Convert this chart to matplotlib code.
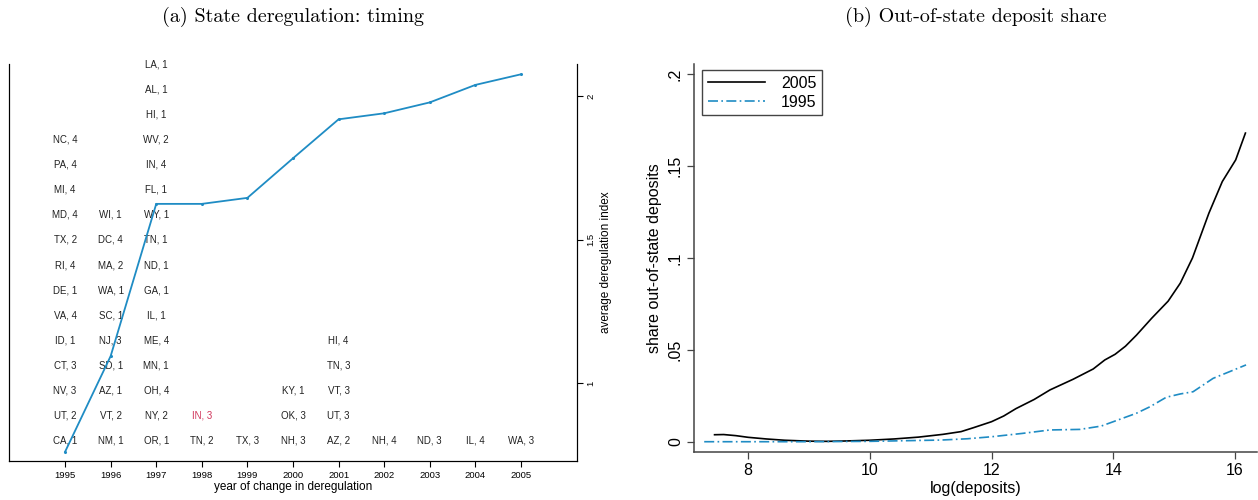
import numpy as np
import matplotlib
matplotlib.use("Agg")
import matplotlib.pyplot as plt

plt.rcParams['font.family'] = ['Liberation Sans', 'DejaVu Sans']

# panel (a): states deregulating in each year, with index value
years = [1995, 1996, 1997, 1998, 1999, 2000, 2001, 2002, 2003, 2004, 2005]
states = {
    1995: ["CA, 1", "UT, 2", "NV, 3", "CT, 3", "ID, 1", "VA, 4", "DE, 1", "RI, 4",
           "TX, 2", "MD, 4", "MI, 4", "PA, 4", "NC, 4"],
    1996: ["NM, 1", "VT, 2", "AZ, 1", "SD, 1", "NJ, 3", "SC, 1", "WA, 1", "MA, 2",
           "DC, 4", "WI, 1"],
    1997: ["OR, 1", "NY, 2", "OH, 4", "MN, 1", "ME, 4", "IL, 1", "GA, 1", "ND, 1",
           "TN, 1", "WY, 1", "FL, 1", "IN, 4", "WV, 2", "HI, 1", "AL, 1", "LA, 1"],
    1998: ["TN, 2", "IN, 3"],
    1999: ["TX, 3"],
    2000: ["NH, 3", "OK, 3", "KY, 1"],
    2001: ["AZ, 2", "UT, 3", "VT, 3", "TN, 3", "HI, 4"],
    2002: ["NH, 4"],
    2003: ["ND, 3"],
    2004: ["IL, 4"],
    2005: ["WA, 3"],
}
highlight = "IN, 3"
avg_index = [0.76, 1.094, 1.625, 1.625, 1.646, 1.784, 1.920, 1.941, 1.979, 2.040, 2.077]

# panel (b): out-of-state deposit share by log(deposits)
x05 = [7.45, 7.6, 7.8, 8.0, 8.3, 8.6, 9.0, 9.3, 9.6, 10.0, 10.4, 10.8, 11.2, 11.5,
       11.7, 12.0, 12.2, 12.4, 12.7, 12.96, 13.34, 13.67, 13.86, 14.03, 14.2, 14.38,
       14.63, 14.9, 15.1, 15.3, 15.57, 15.79, 16.01, 16.17]
y05 = [0.0038, 0.0039, 0.0033, 0.0024, 0.0015, 0.0008, 0.0003, 0.0002, 0.0004,
       0.0008, 0.0015, 0.0025, 0.0040, 0.0055, 0.0076, 0.0109, 0.014, 0.018, 0.023,
       0.0282, 0.034, 0.0396, 0.0445, 0.0476, 0.052, 0.058, 0.0672, 0.0765, 0.0863,
       0.1000, 0.1244, 0.1416, 0.1534, 0.168]
x95 = [7.28, 8.0, 9.0, 10.0, 10.5, 11.17, 11.6, 12.0, 12.5, 12.96, 13.45, 13.8, 14.0,
       14.38, 14.6, 14.87, 15.1, 15.31, 15.64, 15.9, 16.18]
y95 = [0.0, 0.0, 0.0, 0.0002, 0.0005, 0.0009, 0.0016, 0.0027, 0.0045, 0.0064, 0.0067,
       0.0085, 0.0109, 0.0155, 0.019, 0.0242, 0.026, 0.0272, 0.0345, 0.038, 0.0418]

blue = "#1f8cc4"
red = "#d0345a"

fig = plt.figure(figsize=(12.58, 5.0), dpi=100)

# ---- (a) ----
ax1 = fig.add_axes([0.00715, 0.078, 0.4515, 0.794])
for yr in years:
    for i, lab in enumerate(states[yr]):
        ax1.text(yr, i, lab, ha='center', va='center', fontsize=7,
                 color=red if (yr == 1998 and lab == highlight) else '#222222')
ax1.set_xlim(1993.77, 2006.23)
ax1.set_ylim(-0.8, 15)
ax1.set_xticks(years)
ax1.set_xticklabels([str(y) for y in years], fontsize=6.8)
ax1.tick_params(axis='x', length=4, width=0.8, pad=3)
ax1.set_yticks([])
ax1.spines['top'].set_visible(False)
ax1.set_xlabel("year of change in deregulation", fontsize=8.5, labelpad=1)
ax1.set_title("(a) State deregulation: timing", fontfamily='cmr10', fontsize=14.5,
              pad=30)

ax1b = ax1.twinx()
ax1b.plot(years, avg_index, color=blue, lw=1.3, marker='o', markersize=1.2)
ax1b.set_ylim(0.728, 2.113)
ax1b.set_yticks([1, 1.5, 2])
ax1b.set_yticklabels(["1", "1.5", "2"], fontsize=6.8, rotation=90, va='center')
ax1b.tick_params(axis='y', length=4, width=0.8, pad=3)
ax1b.spines['top'].set_visible(False)
ax1b.set_ylabel("average deregulation index", fontsize=8.5, labelpad=3)

# ---- (b) ----
ax2 = fig.add_axes([0.5517, 0.096, 0.4475, 0.776])
ax2.plot(x05, y05, color='black', lw=1.2, label="2005")
ax2.plot(x95, y95, color=blue, lw=1.2, dashes=(6, 2, 1, 2), label="1995")
ax2.set_xlim(7.113, 16.36)
ax2.set_ylim(-0.0056, 0.2056)
ax2.set_xticks([8, 10, 12, 14, 16])
ax2.set_xticklabels(["8", "10", "12", "14", "16"], fontsize=11.5)
ax2.set_yticks([0, 0.05, 0.1, 0.15, 0.2])
ax2.set_yticklabels(["0", ".05", ".1", ".15", ".2"], fontsize=11.5, rotation=90,
                    va='center')
ax2.tick_params(length=5, width=0.9, pad=3, color='#444444')
for s in ['top', 'right']:
    ax2.spines[s].set_visible(False)
for s in ['left', 'bottom']:
    ax2.spines[s].set_color('#444444')
    ax2.spines[s].set_linewidth(1.1)
ax2.set_xlabel("log(deposits)", fontsize=11.5, labelpad=2)
ax2.set_ylabel("share out-of-state deposits", fontsize=11.5, labelpad=4)
ax2.set_title("(b) Out-of-state deposit share", fontfamily='cmr10', fontsize=14.5,
              pad=30)
leg = ax2.legend(loc='upper left', bbox_to_anchor=(0.0, 1.005), fontsize=11.5,
                 fancybox=False, framealpha=1, edgecolor='#444444',
                 handlelength=3.6, borderpad=0.35, labelspacing=0.25,
                 handletextpad=1.0)
leg.get_frame().set_linewidth(1.0)

fig.savefig("out.png", dpi=100)
